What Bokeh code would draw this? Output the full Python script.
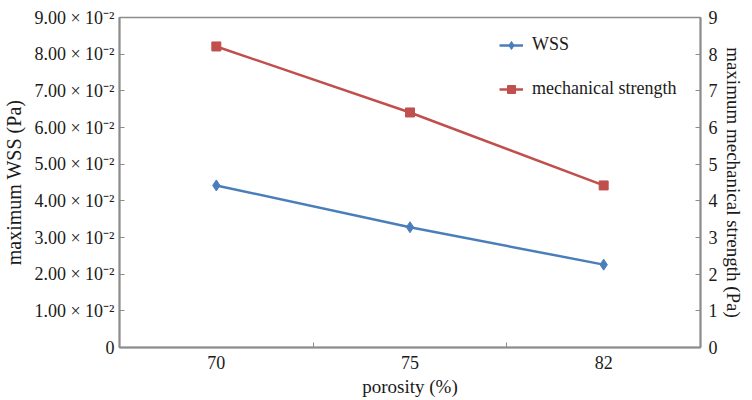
from bokeh.plotting import figure
from bokeh.models import (Range1d, LinearAxis, FixedTicker, Legend, LegendItem)
from bokeh.embed import file_html
from bokeh.resources import INLINE

porosity = ["70", "75", "82"]
wss = [0.0442, 0.0328, 0.0226]
mech = [8.21, 6.41, 4.42]
left_ticks = [0, 0.01, 0.02, 0.03, 0.04, 0.05, 0.06, 0.07, 0.08, 0.09]
left_labels = ["0", "1.00 × 10⁻²", "2.00 × 10⁻²", "3.00 × 10⁻²", "4.00 × 10⁻²",
               "5.00 × 10⁻²", "6.00 × 10⁻²", "7.00 × 10⁻²", "8.00 × 10⁻²", "9.00 × 10⁻²"]
right_ticks = [0, 1, 2, 3, 4, 5, 6, 7, 8, 9]

FONT = "'Liberation Serif', 'Times New Roman', serif"
AX = "#8c8c8c"
TXT = "#1a1a1a"
BLUE = "#4a7ebb"
RED = "#c0504d"

xs = list(range(len(porosity)))

p = figure(width=752, height=400, output_backend="svg", toolbar_location=None,
           x_range=Range1d(-0.5, len(porosity) - 0.5), y_range=Range1d(0, 0.09),
           min_border_left=118, min_border_right=52, min_border_top=17, min_border_bottom=53)
p.extra_y_ranges = {"ms": Range1d(0, 9)}
p.xgrid.visible = False
p.ygrid.visible = False
p.outline_line_color = AX
p.outline_line_width = 1.5
p.background_fill_color = "white"
p.border_fill_color = "white"

# x axis
xa = p.xaxis[0]
xa.ticker = FixedTicker(ticks=xs, minor_ticks=[i + 0.5 for i in xs[:-1]])
xa.major_label_overrides = {i: s for i, s in zip(xs, porosity)}
xa.axis_label = "porosity (%)"

# left axis
ya = p.yaxis[0]
ya.ticker = FixedTicker(ticks=left_ticks)
ya.major_label_overrides = {t: s for t, s in zip(left_ticks, left_labels)}
ya.axis_label = "maximum WSS (Pa)"

# right axis
ra = LinearAxis(y_range_name="ms", axis_label="maximum mechanical strength (Pa)",
                ticker=FixedTicker(ticks=right_ticks))
p.add_layout(ra, "right")

for ax in [xa, ya, ra]:
    ax.axis_line_color = AX
    ax.axis_line_width = 2
    ax.major_tick_line_color = AX
    ax.major_tick_in = 5
    ax.major_tick_out = 0
    ax.minor_tick_line_color = AX
    ax.minor_tick_in = 5
    ax.minor_tick_out = 0
    ax.major_label_text_font = FONT
    ax.major_label_text_font_size = "18px"
    ax.major_label_text_color = TXT
    ax.axis_label_text_font = FONT
    ax.axis_label_text_font_size = "19px"
    ax.axis_label_text_font_style = "normal"
    ax.axis_label_text_color = TXT
xa.major_tick_line_color = None
ya.minor_tick_line_color = None
ra.minor_tick_line_color = None
xa.major_label_standoff = 8
xa.axis_label_standoff = 4
ya.major_label_standoff = 5
ya.axis_label_standoff = 6
ra.major_label_standoff = 8
ra.axis_label_standoff = 2
ya.axis_label_text_font_size = "20px"

l1 = p.line(xs, wss, line_color=BLUE, line_width=2.5)
m1 = p.scatter(xs, wss, marker="diamond", size=11, fill_color=BLUE, line_color=BLUE)
l2 = p.line(xs, mech, line_color=RED, line_width=2.5, y_range_name="ms")
m2 = p.scatter(xs, mech, marker="square", size=9, fill_color=RED, line_color=RED, y_range_name="ms")

legend = Legend(items=[LegendItem(label="WSS", renderers=[l1, m1]),
                       LegendItem(label="mechanical strength", renderers=[l2, m2])],
                location=(380, 248), border_line_color=None, background_fill_alpha=0,
                padding=0, spacing=23, glyph_width=24, glyph_height=20, label_height=20,
                label_standoff=9, label_text_font=FONT, label_text_font_size="18px",
                label_text_color=TXT)
p.add_layout(legend, "center")

open("out.html", "w").write(file_html(p, INLINE))
